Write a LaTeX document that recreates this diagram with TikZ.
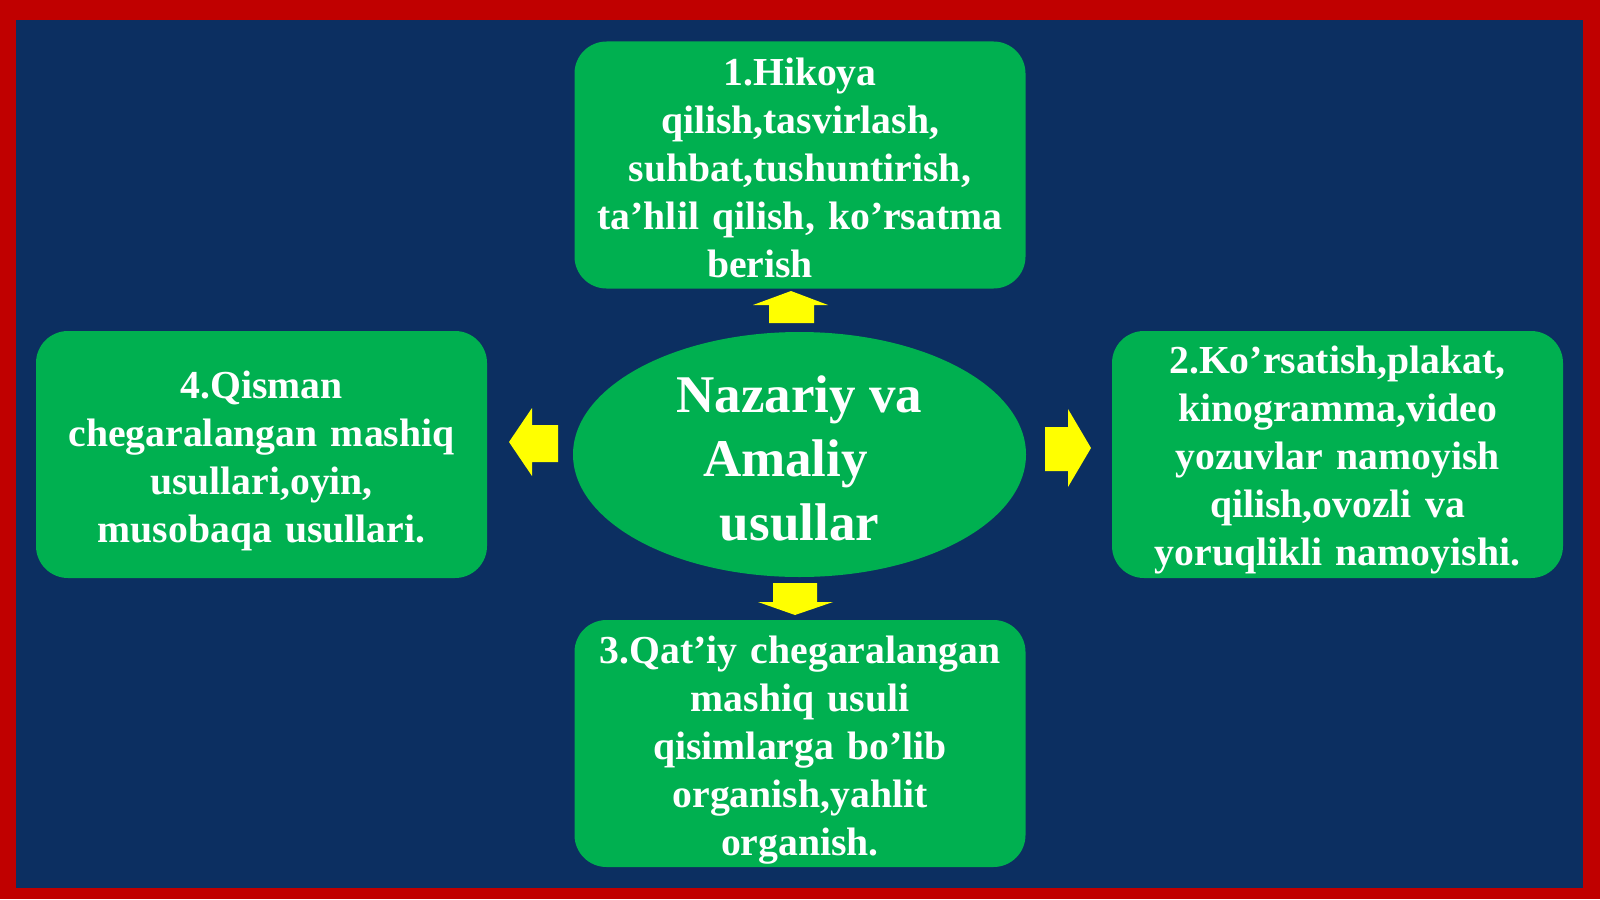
\documentclass[tikz,border=0pt]{standalone}
\usepackage{fontspec}
\setmainfont{Liberation Serif}
\definecolor{navybg}{HTML}{0C2F61}
\definecolor{boxgreen}{HTML}{00B050}
\definecolor{frame}{HTML}{C00000}
\definecolor{arrowyellow}{HTML}{FFFF00}
\usetikzlibrary{shapes.geometric}
\tikzset{
  greenbox/.style={fill=boxgreen, rounded corners=32pt, minimum width=451pt, minimum height=247pt, inner sep=0pt},
  boxtext/.style={text=white, align=center, text width=440pt, inner sep=0pt,
    font=\fontsize{39.7}{48}\selectfont\bfseries},
  centeroval/.style={ellipse, fill=boxgreen, minimum width=453pt, minimum height=245pt, inner sep=0pt},
  ovaltext/.style={text=white, align=center, inner sep=0pt, font=\fontsize{53}{64}\selectfont\bfseries},
  blockarrow/.style={fill=arrowyellow}
}
\begin{document}
\begin{tikzpicture}[x=1pt,y=-1pt]
\useasboundingbox (0,0) rectangle (1600,899);
\fill[frame] (0,0) rectangle (1600,899);
\fill[navybg] (16,20) rectangle (1583,888);

\node[greenbox] (top) at (800,165) {};
\node[greenbox] (left) at (261.5,454.5) {};
\node[greenbox] (right) at (1337.5,454.5) {};
\node[greenbox] (bottom) at (800,743.5) {};
\node[centeroval] (center) at (799.5,454.5) {};

\node[boxtext] (toptext) at ([yshift=-3pt]top.center) {1.Hikoya\\ qilish,tasvirlash,\\ suhbat,tushuntirish,\\ ta’hlil qilish, ko’rsatma\\ berish\kern80pt};
\node[boxtext] (lefttext) at ([yshift=-6pt]left.center) {4.Qisman\\ chegaralangan mashiq\\ usullari,oyin,\\ musobaqa usullari.};
\node[boxtext] (righttext) at ([yshift=-6pt]right.center) {2.Ko’rsatish,plakat,\\ kinogramma,video\\ yozuvlar namoyish\\ qilish,ovozli va\\ yoruqlikli namoyishi.};
\node[boxtext] (bottomtext) at ([yshift=-7pt]bottom.center) {3.Qat’iy chegaralangan\\ mashiq usuli\\ qisimlarga bo’lib\\ organish,yahlit\\ organish.};
\node[ovaltext] (centertext) at ([yshift=-4pt]center.center) {Nazariy va\\ Amaliy\kern28pt\\ usullar};

% block arrows
\fill[blockarrow] (791,291) -- (828,305) -- (814,305) -- (814,323) -- (769,323) -- (769,305) -- (753,305) -- cycle;
\fill[blockarrow] (795,615) -- (833,602) -- (817,602) -- (817,583) -- (773,583) -- (773,602) -- (758,602) -- cycle;
\fill[blockarrow] (509,442) -- (532,408) -- (532,425) -- (558,425) -- (558,462) -- (532,462) -- (532,476) -- cycle;
\fill[blockarrow] (1091,448) -- (1068,409) -- (1068,427) -- (1045,427) -- (1045,471) -- (1068,471) -- (1068,487) -- cycle;
\end{tikzpicture}
\end{document}
